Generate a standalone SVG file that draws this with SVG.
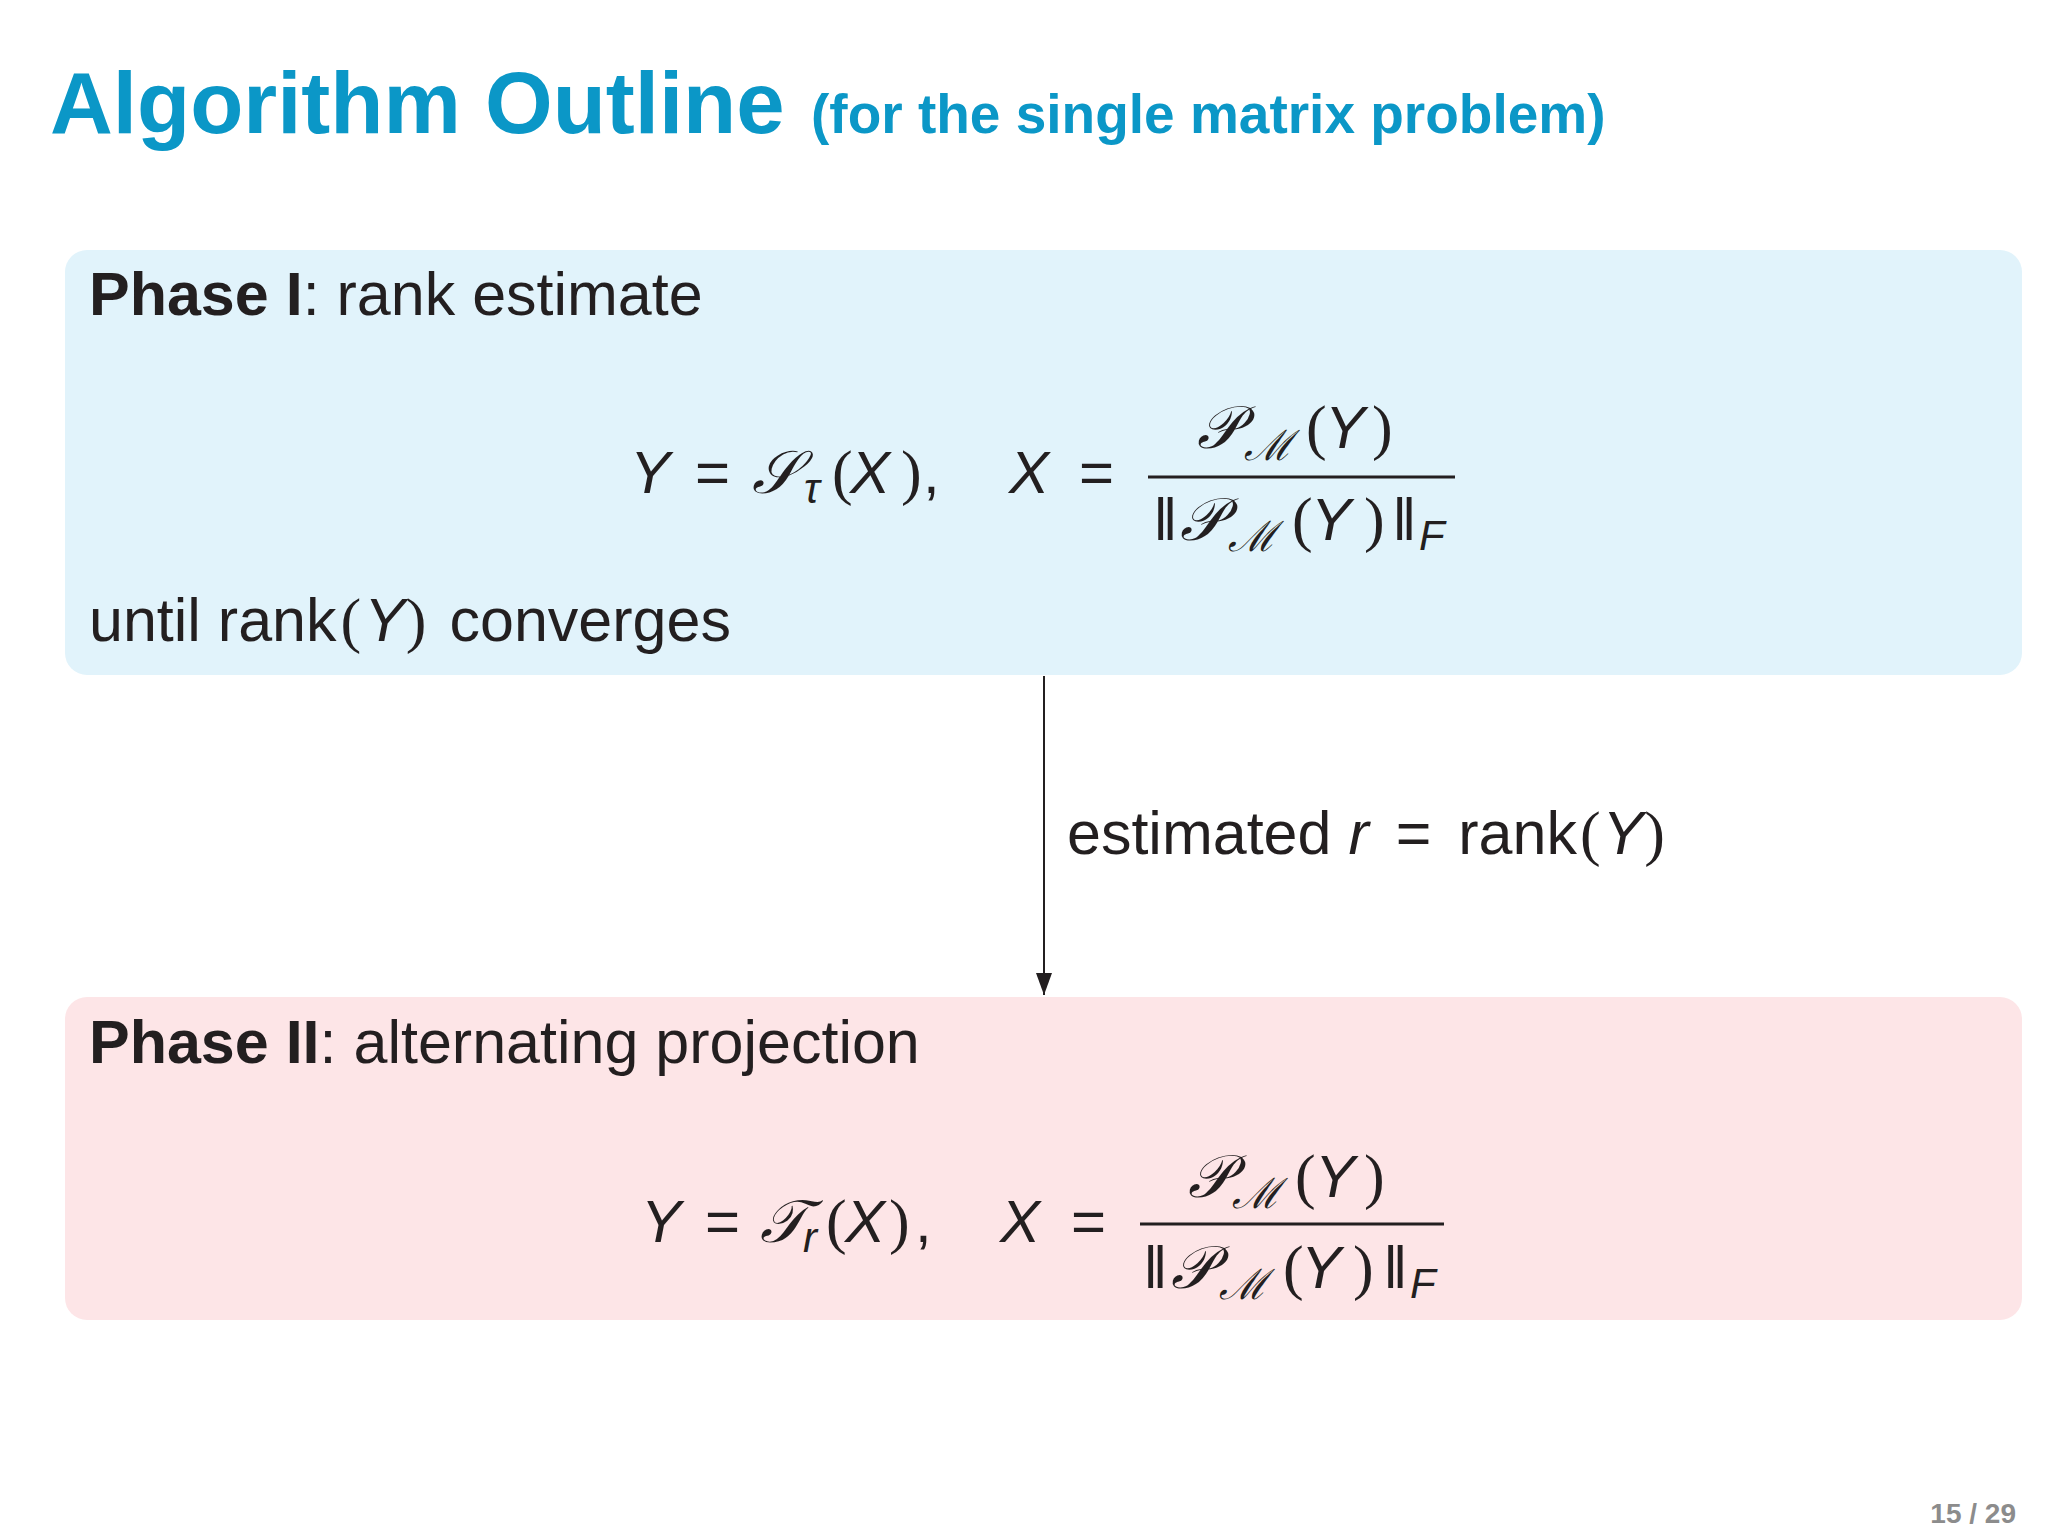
<svg xmlns="http://www.w3.org/2000/svg" width="2048" height="1536" viewBox="0 0 2048 1536">
<defs>
<style>
.title{font-family:"Liberation Sans",Arial,sans-serif;font-weight:bold;fill:#0b97c7}
.txt{font-family:"Liberation Sans",Arial,sans-serif;font-size:61px;fill:#231f20}
.b{font-weight:bold}
.mi{font-family:"Liberation Sans",Arial,sans-serif;font-style:italic;font-size:60px;fill:#231f20}
.mr{font-family:"Liberation Sans",Arial,sans-serif;font-size:60px;fill:#231f20}
.par{font-family:"Liberation Serif","Times New Roman",serif;font-size:62px;fill:#231f20}
.cal{font-family:"DejaVu Serif","Liberation Serif",serif;font-style:italic;font-size:60px;fill:#231f20}
.sub{font-size:42px}
.pg{font-family:"Liberation Sans",Arial,sans-serif;font-weight:bold;font-size:28px;fill:#8c8c8c}
</style>
<marker id="arr" viewBox="0 0 22 16" markerWidth="22" markerHeight="16" refX="22" refY="8" orient="auto" markerUnits="userSpaceOnUse">
<path d="M0,0 L22,8 L0,16 z" fill="#231f20"/>
</marker>
</defs>
<rect width="2048" height="1536" fill="#ffffff"/>
<g id="title">
<text class="title" x="50" y="133" font-size="87">Algorithm Outline</text>
<text class="title" x="811" y="133" font-size="55">(for the single matrix problem)</text>
</g>
<g id="phase1">
<rect x="65" y="250" width="1957" height="425" rx="22" ry="22" fill="#e1f3fb"/>
<text class="txt" x="89" y="315"><tspan class="b">Phase I</tspan>: rank estimate</text>
<g id="formula1">
<text class="mi" x="630" y="493">Y</text>
<text class="mr" x="695" y="493">=</text>
<text class="cal" x="752" y="493">𝒮</text>
<text class="mi sub" x="804" y="503">τ</text>
<text class="par" x="832" y="493">(</text>
<text class="mi" x="850" y="493">X</text>
<text class="par" x="901" y="493">)</text>
<text class="mr" x="923" y="493">,</text>
<text class="mi" x="1009" y="493">X</text>
<text class="mr" x="1079" y="493">=</text>
<rect x="1148" y="475.5" width="307" height="3" fill="#231f20"/>
<text class="cal" x="1197" y="448">𝒫</text>
<text class="cal sub" x="1244" y="460">ℳ</text>
<text class="par" x="1306" y="448">(</text>
<text class="mi" x="1325" y="448">Y</text>
<text class="par" x="1372" y="448">)</text>
<text class="mr" x="1153" y="540">‖</text>
<text class="cal" x="1180" y="540">𝒫</text>
<text class="cal sub" x="1228" y="551">ℳ</text>
<text class="par" x="1292" y="540">(</text>
<text class="mi" x="1311" y="540">Y</text>
<text class="par" x="1364" y="540">)</text>
<text class="mr" x="1392" y="540">‖</text>
<text class="mi sub" x="1419" y="550">F</text>
</g>
<text class="txt" x="89" y="641">until rank<tspan class="par" dx="4">(</tspan><tspan font-style="italic" dx="3">Y</tspan><tspan class="par" dx="1">)</tspan> <tspan dx="6">converges</tspan></text>
</g>
<g id="connectors">
<line x1="1044" y1="676" x2="1044" y2="995" stroke="#231f20" stroke-width="2" marker-end="url(#arr)"/>
<text class="txt" x="1067" y="854">estimated <tspan font-style="italic">r</tspan> <tspan dx="10">=</tspan> <tspan dx="10">rank</tspan><tspan class="par" dx="3">(</tspan><tspan font-style="italic" dx="2">Y</tspan><tspan class="par" dx="1">)</tspan></text>
</g>
<g id="phase2">
<rect x="65" y="997" width="1957" height="323" rx="22" ry="22" fill="#fde5e7"/>
<text class="txt" x="89" y="1063"><tspan class="b">Phase II</tspan>: alternating projection</text>
<g id="formula2">
<text class="mi" x="641" y="1242">Y</text>
<text class="mr" x="705" y="1242">=</text>
<text class="cal" x="760" y="1242">𝒯</text>
<text class="mi sub" x="803" y="1252">r</text>
<text class="par" x="826" y="1242">(</text>
<text class="mi" x="845" y="1242">X</text>
<text class="par" x="889" y="1242">)</text>
<text class="mr" x="915" y="1242">,</text>
<text class="mi" x="1000" y="1242">X</text>
<text class="mr" x="1071" y="1242">=</text>
<rect x="1140" y="1222.5" width="304" height="3" fill="#231f20"/>
<text class="cal" x="1188" y="1197">𝒫</text>
<text class="cal sub" x="1232" y="1208">ℳ</text>
<text class="par" x="1295" y="1197">(</text>
<text class="mi" x="1315" y="1197">Y</text>
<text class="par" x="1364" y="1197">)</text>
<text class="mr" x="1143" y="1288">‖</text>
<text class="cal" x="1171" y="1288">𝒫</text>
<text class="cal sub" x="1219" y="1299">ℳ</text>
<text class="par" x="1283" y="1288">(</text>
<text class="mi" x="1301" y="1288">Y</text>
<text class="par" x="1353" y="1288">)</text>
<text class="mr" x="1383" y="1288">‖</text>
<text class="mi sub" x="1410" y="1298">F</text>
</g>
</g>
<text class="pg" x="2016" y="1523" text-anchor="end">15 / 29</text>
</svg>
